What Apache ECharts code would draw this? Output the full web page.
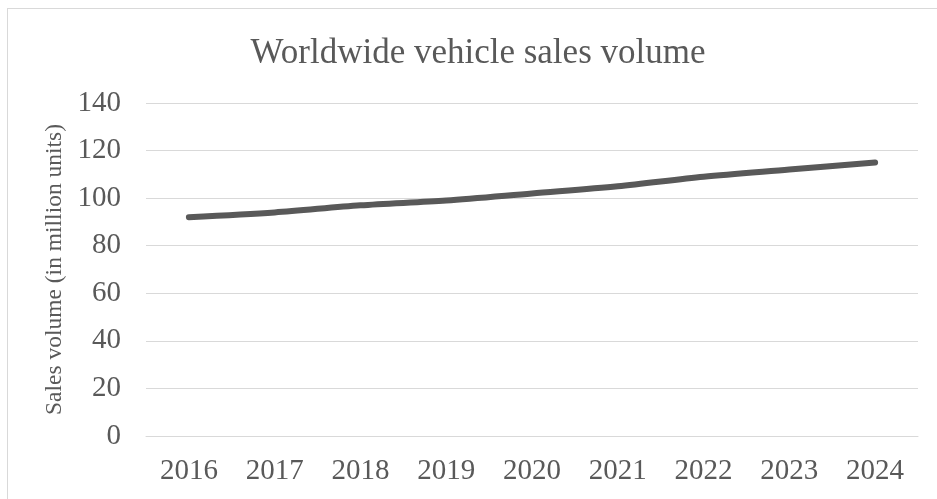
<!DOCTYPE html>
<html><head><meta charset="utf-8">
<script src="https://cdn.jsdelivr.net/npm/echarts@6/dist/echarts.min.js"></script>
<style>html,body{margin:0;padding:0;background:#fff}#c{width:937px;height:499px}
#b{position:absolute;left:7px;top:8px;width:940px;height:500px;border:1px solid #d9d9d9;box-sizing:border-box;pointer-events:none}</style>
</head><body><div id="c"></div><div id="b"></div>
<script>
const categories = ["2016","2017","2018","2019","2020","2021","2022","2023","2024"];
const salesVolume = [92, 94, 97, 99, 102, 105, 109, 112, 115];
const yTicks = {min: 0, max: 140, interval: 20};
const chart = echarts.init(document.getElementById('c'));
const serif = '"Liberation Serif", "DejaVu Serif", serif';
chart.setOption({
  animation: false,
  title: {text: 'Worldwide vehicle sales volume', left: 473, top: 31, textAlign: 'center',
    textStyle: {fontFamily: serif, fontSize: 35, fontWeight: 'normal', color: '#595959'}},
  grid: {left: 146, right: 19, top: 103, bottom: 63},
  xAxis: {type: 'category', data: categories, boundaryGap: true,
    axisLine: {lineStyle: {color: '#d9d9d9'}}, axisTick: {show: false},
    axisLabel: {fontFamily: serif, fontSize: 29, color: '#595959', margin: 21}},
  yAxis: {type: 'value', min: yTicks.min, max: yTicks.max, interval: yTicks.interval,
    name: 'Sales volume (in million units)', nameLocation: 'middle', nameGap: 77,
    nameTextStyle: {fontFamily: serif, fontSize: 23.5, color: '#595959'},
    axisLine: {show: false}, axisTick: {show: false},
    splitLine: {lineStyle: {color: '#d9d9d9', width: 1}},
    axisLabel: {fontFamily: serif, fontSize: 29, color: '#595959', margin: 25}},
  series: [{type: 'line', data: salesVolume, smooth: 0.3, symbol: 'none',
    lineStyle: {color: '#595959', width: 6, cap: 'round'}}]
});
</script></body></html>
